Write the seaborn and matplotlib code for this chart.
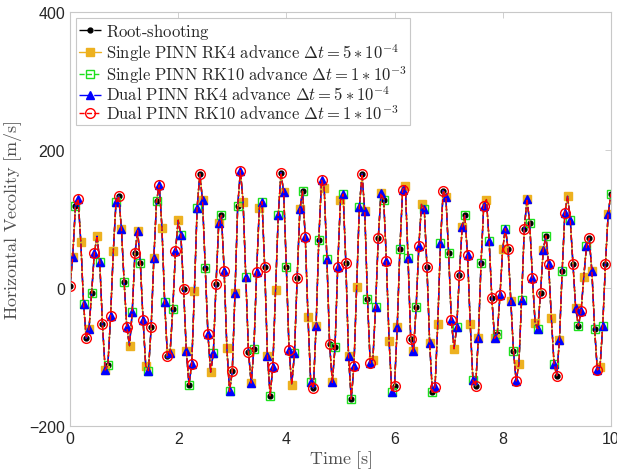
import numpy as np
import pandas as pd
import matplotlib
matplotlib.use("Agg")
import matplotlib.pyplot as plt
import seaborn as sns

time_step = 0.05
root_shooting = [
    3, 45, 119, 129, 66, -23, -73, -60, -7, 51, 75, 37, -53, -119, -112, -41, 53, 124, 133, 86,
    9, -57, -84, -35, 50, 83, 36, -46, -113, -120, -57, 43, 126, 149, 87, -21, -98, -94, -30, 53,
    98, 77, -2, -91, -140, -111, -4, 116, 165, 127, 29, -67, -122, -94, 6, 94, 105, 25, -87, -150,
    -121, -8, 118, 170, 125, 16, -93, -138, -89, 23, 116, 125, 30, -98, -156, -114, -3, 105, 167, 139,
    30, -90, -140, -95, 15, 114, 140, 74, -42, -136, -145, -55, 70, 156, 145, 42, -82, -137, -86, 31,
    127, 136, 36, -99, -161, -113, 2, 117, 165, 111, -16, -109, -104, -27, 73, 137, 128, 39, -77, -151,
    -142, -57, 57, 142, 148, 43, -74, -92, -28, 61, 122, 115, 30, -80, -151, -143, -52, 65, 141, 132,
    51, -46, -88, -57, 19, 88, 105, 48, -52, -134, -142, -73, 36, 119, 128, 68, -15, -73, -67, -11,
    56, 86, 57, -19, -92, -135, -110, -17, 86, 129, 94, 15, -51, -59, -7, 55, 75, 34, -43, -110,
    -127, -75, 24, 109, 133, 98, 34, -29, -55, -34, 16, 61, 72, 24, -59, -119, -115, -55, 34, 107,
    136,
]
# the PINN predictions lie on top of the reference solution
single_rk4 = list(root_shooting)
single_rk10 = list(root_shooting)
dual_rk4 = list(root_shooting)
dual_rk10 = list(root_shooting)

time = np.arange(len(root_shooting)) * time_step
df = pd.DataFrame({
    "Time": time,
    "Root": root_shooting,
    "SingleRK4": single_rk4,
    "SingleRK10": single_rk10,
    "DualRK4": dual_rk4,
    "DualRK10": dual_rk10,
})

sns.set_style("white")
plt.rcParams["mathtext.fontset"] = "cm"
plt.rcParams["font.family"] = ["Liberation Sans", "DejaVu Sans"]

fig, ax = plt.subplots(figsize=(6.17, 4.77), dpi=100)
fig.subplots_adjust(left=0.1135, right=0.990, top=0.973, bottom=0.105)

series = [
    ("Root", r"$\mathrm{Root\text{-}shooting}$", "black", "-.", "o", "black", 3.5, (0, 2)),
    ("SingleRK4", r"$\mathrm{Single\ PINN\ RK4\ advance}\ \Delta t = 5 * 10^{-4}$",
     "#EDB120", "-", "s", "#EDB120", 5.5, (1, 3)),
    ("SingleRK10", r"$\mathrm{Single\ PINN\ RK10\ advance}\ \Delta t = 1 * 10^{-3}$",
     "#1EE01E", "--", "s", "none", 6, (2, 3)),
    ("DualRK4", r"$\mathrm{Dual\ PINN\ RK4\ advance}\ \Delta t = 5 * 10^{-4}$",
     "#0000FF", "-.", "^", "#0000FF", 5.5, (1, 2)),
    ("DualRK10", r"$\mathrm{Dual\ PINN\ RK10\ advance}\ \Delta t = 1 * 10^{-3}$",
     "#FF0000", "--", "o", "none", 7, (0, 3)),
]

for col, label, color, ls, marker, mfc, ms, every in series:
    sns.lineplot(data=df, x="Time", y=col, ax=ax, label=label, color=color,
                 linestyle=ls, linewidth=1.0, marker=marker, markersize=ms,
                 markerfacecolor=mfc, markeredgecolor=color, markeredgewidth=1.0,
                 markevery=every, sort=False, estimator=None)

ax.set_xlim(0, 10)
ax.set_ylim(-200, 400)
ax.set_xticks([0, 2, 4, 6, 8, 10])
ax.set_yticks([-200, 0, 200, 400])
ax.tick_params(direction="in", length=4, width=0.6, colors="#c8c8c8",
               labelcolor="#262626", labelsize=11.5, top=True, right=True)
for sp in ax.spines.values():
    sp.set_color("#c8c8c8")
    sp.set_linewidth(0.8)

ax.set_xlabel(r"$\mathrm{Time\ [s]}$", fontsize=13, color="#505050", labelpad=2)
ax.set_ylabel(r"$\mathrm{Horizontal\ Vecolity\ [m/s]}$", fontsize=13, color="#505050", labelpad=4)

leg = ax.legend(loc="upper left", fontsize=12, handlelength=1.3, handletextpad=0.3,
                labelspacing=0.0, borderpad=0.2, borderaxespad=0.35,
                fancybox=False, framealpha=1, edgecolor="#c8c8c8")
leg.get_frame().set_linewidth(0.8)

fig.savefig("out.png", dpi=100)
